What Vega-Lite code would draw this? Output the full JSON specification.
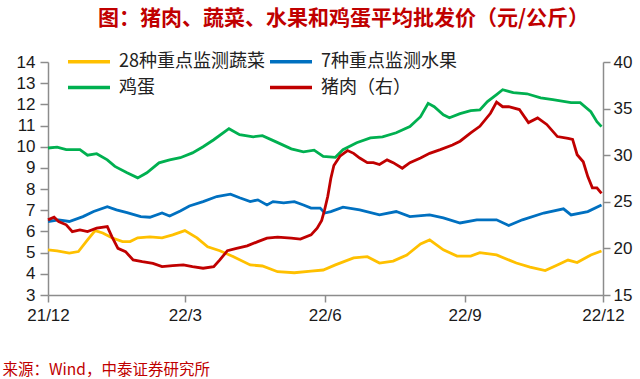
{
  "$schema": "https://vega.github.io/schema/vega-lite/v6.json",
  "autosize": {"type": "none"},
  "width": 555,
  "height": 233,
  "padding": {"left": 48, "top": 62, "right": 37, "bottom": 84},
  "background": "white",
  "title": {
    "text": "图：猪肉、蔬菜、水果和鸡蛋平均批发价（元/公斤）",
    "font": "Noto Sans CJK SC",
    "fontSize": 21,
    "fontWeight": "bold",
    "color": "#C00000",
    "anchor": "middle",
    "frame": "group",
    "dx": 18,
    "dy": 13,
    "offset": 22,
    "baseline": "middle"
  },
  "config": {
    "view": {"stroke": null},
    "axis": {
      "grid": false,
      "domainColor": "#8c8c8c",
      "domainWidth": 1.5,
      "tickColor": "#8c8c8c",
      "tickWidth": 1.5,
      "labelFont": "Liberation Sans",
      "labelFontSize": 17,
      "labelColor": "#1a1a1a"
    }
  },
  "datasets": {
    "prices": [
      {"series": "鸡蛋", "date": "2021-12-01", "value": 9.94},
      {"series": "鸡蛋", "date": "2021-12-07", "value": 9.98},
      {"series": "鸡蛋", "date": "2021-12-13", "value": 9.86},
      {"series": "鸡蛋", "date": "2021-12-22", "value": 9.86},
      {"series": "鸡蛋", "date": "2021-12-27", "value": 9.6},
      {"series": "鸡蛋", "date": "2022-01-02", "value": 9.67},
      {"series": "鸡蛋", "date": "2022-01-09", "value": 9.38},
      {"series": "鸡蛋", "date": "2022-01-14", "value": 9.07},
      {"series": "鸡蛋", "date": "2022-01-22", "value": 8.77},
      {"series": "鸡蛋", "date": "2022-01-29", "value": 8.53},
      {"series": "鸡蛋", "date": "2022-02-04", "value": 8.77},
      {"series": "鸡蛋", "date": "2022-02-12", "value": 9.24},
      {"series": "鸡蛋", "date": "2022-02-19", "value": 9.38},
      {"series": "鸡蛋", "date": "2022-02-26", "value": 9.48},
      {"series": "鸡蛋", "date": "2022-03-06", "value": 9.71},
      {"series": "鸡蛋", "date": "2022-03-13", "value": 10.0},
      {"series": "鸡蛋", "date": "2022-03-20", "value": 10.33},
      {"series": "鸡蛋", "date": "2022-03-30", "value": 10.85},
      {"series": "鸡蛋", "date": "2022-04-06", "value": 10.57},
      {"series": "鸡蛋", "date": "2022-04-15", "value": 10.47},
      {"series": "鸡蛋", "date": "2022-04-21", "value": 10.52},
      {"series": "鸡蛋", "date": "2022-04-30", "value": 10.23},
      {"series": "鸡蛋", "date": "2022-05-10", "value": 9.9},
      {"series": "鸡蛋", "date": "2022-05-18", "value": 9.76},
      {"series": "鸡蛋", "date": "2022-05-25", "value": 9.84},
      {"series": "鸡蛋", "date": "2022-05-31", "value": 9.54},
      {"series": "鸡蛋", "date": "2022-06-08", "value": 9.5},
      {"series": "鸡蛋", "date": "2022-06-13", "value": 9.86},
      {"series": "鸡蛋", "date": "2022-06-22", "value": 10.19},
      {"series": "鸡蛋", "date": "2022-07-01", "value": 10.42},
      {"series": "鸡蛋", "date": "2022-07-09", "value": 10.47},
      {"series": "鸡蛋", "date": "2022-07-18", "value": 10.66},
      {"series": "鸡蛋", "date": "2022-07-27", "value": 10.95},
      {"series": "鸡蛋", "date": "2022-08-03", "value": 11.42},
      {"series": "鸡蛋", "date": "2022-08-08", "value": 12.05},
      {"series": "鸡蛋", "date": "2022-08-12", "value": 11.89},
      {"series": "鸡蛋", "date": "2022-08-18", "value": 11.51},
      {"series": "鸡蛋", "date": "2022-08-22", "value": 11.37},
      {"series": "鸡蛋", "date": "2022-08-29", "value": 11.56},
      {"series": "鸡蛋", "date": "2022-09-05", "value": 11.7},
      {"series": "鸡蛋", "date": "2022-09-11", "value": 11.74},
      {"series": "鸡蛋", "date": "2022-09-16", "value": 12.13},
      {"series": "鸡蛋", "date": "2022-09-22", "value": 12.46},
      {"series": "鸡蛋", "date": "2022-09-26", "value": 12.69},
      {"series": "鸡蛋", "date": "2022-10-03", "value": 12.55},
      {"series": "鸡蛋", "date": "2022-10-12", "value": 12.5},
      {"series": "鸡蛋", "date": "2022-10-21", "value": 12.31},
      {"series": "鸡蛋", "date": "2022-10-29", "value": 12.22},
      {"series": "鸡蛋", "date": "2022-11-10", "value": 12.08},
      {"series": "鸡蛋", "date": "2022-11-16", "value": 12.08},
      {"series": "鸡蛋", "date": "2022-11-23", "value": 11.65},
      {"series": "鸡蛋", "date": "2022-11-27", "value": 11.18},
      {"series": "鸡蛋", "date": "2022-11-30", "value": 10.95},

      {"series": "7种重点监测水果", "date": "2021-12-01", "value": 6.47},
      {"series": "7种重点监测水果", "date": "2021-12-08", "value": 6.55},
      {"series": "7种重点监测水果", "date": "2021-12-15", "value": 6.47},
      {"series": "7种重点监测水果", "date": "2021-12-24", "value": 6.7},
      {"series": "7种重点监测水果", "date": "2021-12-31", "value": 6.94},
      {"series": "7种重点监测水果", "date": "2022-01-09", "value": 7.17},
      {"series": "7种重点监测水果", "date": "2022-01-15", "value": 7.02},
      {"series": "7种重点监测水果", "date": "2022-01-22", "value": 6.89},
      {"series": "7种重点监测水果", "date": "2022-01-31", "value": 6.7},
      {"series": "7种重点监测水果", "date": "2022-02-06", "value": 6.67},
      {"series": "7种重点监测水果", "date": "2022-02-14", "value": 6.87},
      {"series": "7种重点监测水果", "date": "2022-02-19", "value": 6.73},
      {"series": "7种重点监测水果", "date": "2022-02-26", "value": 6.97},
      {"series": "7种重点监测水果", "date": "2022-03-04", "value": 7.2},
      {"series": "7种重点监测水果", "date": "2022-03-13", "value": 7.41},
      {"series": "7种重点监测水果", "date": "2022-03-22", "value": 7.65},
      {"series": "7种重点监测水果", "date": "2022-03-31", "value": 7.76},
      {"series": "7种重点监测水果", "date": "2022-04-06", "value": 7.59},
      {"series": "7种重点监测水果", "date": "2022-04-13", "value": 7.41},
      {"series": "7种重点监测水果", "date": "2022-04-18", "value": 7.49},
      {"series": "7种重点监测水果", "date": "2022-04-24", "value": 7.25},
      {"series": "7种重点监测水果", "date": "2022-04-28", "value": 7.41},
      {"series": "7种重点监测水果", "date": "2022-05-05", "value": 7.35},
      {"series": "7种重点监测水果", "date": "2022-05-12", "value": 7.41},
      {"series": "7种重点监测水果", "date": "2022-05-18", "value": 7.25},
      {"series": "7种重点监测水果", "date": "2022-05-23", "value": 7.1},
      {"series": "7种重点监测水果", "date": "2022-05-29", "value": 7.1},
      {"series": "7种重点监测水果", "date": "2022-06-01", "value": 6.87},
      {"series": "7种重点监测水果", "date": "2022-06-05", "value": 6.94},
      {"series": "7种重点监测水果", "date": "2022-06-13", "value": 7.15},
      {"series": "7种重点监测水果", "date": "2022-06-24", "value": 7.02},
      {"series": "7种重点监测水果", "date": "2022-07-07", "value": 6.78},
      {"series": "7种重点监测水果", "date": "2022-07-18", "value": 6.94},
      {"series": "7种重点监测水果", "date": "2022-07-27", "value": 6.7},
      {"series": "7种重点监测水果", "date": "2022-08-09", "value": 6.78},
      {"series": "7种重点监测水果", "date": "2022-08-18", "value": 6.64},
      {"series": "7种重点监测水果", "date": "2022-08-29", "value": 6.4},
      {"series": "7种重点监测水果", "date": "2022-09-09", "value": 6.55},
      {"series": "7种重点监测水果", "date": "2022-09-22", "value": 6.55},
      {"series": "7种重点监测水果", "date": "2022-09-30", "value": 6.28},
      {"series": "7种重点监测水果", "date": "2022-10-09", "value": 6.55},
      {"series": "7种重点监测水果", "date": "2022-10-23", "value": 6.87},
      {"series": "7种重点监测水果", "date": "2022-11-05", "value": 7.07},
      {"series": "7种重点监测水果", "date": "2022-11-10", "value": 6.78},
      {"series": "7种重点监测水果", "date": "2022-11-21", "value": 6.94},
      {"series": "7种重点监测水果", "date": "2022-11-30", "value": 7.25},

      {"series": "28种重点监测蔬菜", "date": "2021-12-01", "value": 5.13},
      {"series": "28种重点监测蔬菜", "date": "2021-12-07", "value": 5.08},
      {"series": "28种重点监测蔬菜", "date": "2021-12-15", "value": 4.98},
      {"series": "28种重点监测蔬菜", "date": "2021-12-21", "value": 5.05},
      {"series": "28种重点监测蔬菜", "date": "2021-12-27", "value": 5.6},
      {"series": "28种重点监测蔬菜", "date": "2022-01-01", "value": 6.04},
      {"series": "28种重点监测蔬菜", "date": "2022-01-06", "value": 5.93},
      {"series": "28种重点监测蔬菜", "date": "2022-01-12", "value": 5.7},
      {"series": "28种重点监测蔬菜", "date": "2022-01-19", "value": 5.52},
      {"series": "28种重点监测蔬菜", "date": "2022-01-24", "value": 5.52},
      {"series": "28种重点监测蔬菜", "date": "2022-01-29", "value": 5.7},
      {"series": "28种重点监测蔬菜", "date": "2022-02-06", "value": 5.74},
      {"series": "28种重点监测蔬菜", "date": "2022-02-14", "value": 5.7},
      {"series": "28种重点监测蔬菜", "date": "2022-02-21", "value": 5.84},
      {"series": "28种重点监测蔬菜", "date": "2022-03-01", "value": 6.04},
      {"series": "28种重点监测蔬菜", "date": "2022-03-09", "value": 5.7},
      {"series": "28种重点监测蔬菜", "date": "2022-03-16", "value": 5.28},
      {"series": "28种重点监测蔬菜", "date": "2022-03-24", "value": 5.09},
      {"series": "28种重点监测蔬菜", "date": "2022-04-02", "value": 4.81},
      {"series": "28种重点监测蔬菜", "date": "2022-04-13", "value": 4.42},
      {"series": "28种重点监测蔬菜", "date": "2022-04-21", "value": 4.37},
      {"series": "28种重点监测蔬菜", "date": "2022-05-01", "value": 4.1},
      {"series": "28种重点监测蔬菜", "date": "2022-05-12", "value": 4.05},
      {"series": "28种重点监测蔬菜", "date": "2022-05-23", "value": 4.13},
      {"series": "28种重点监测蔬菜", "date": "2022-05-31", "value": 4.18},
      {"series": "28种重点监测蔬菜", "date": "2022-06-08", "value": 4.42},
      {"series": "28种重点监测蔬菜", "date": "2022-06-20", "value": 4.75},
      {"series": "28种重点监测蔬菜", "date": "2022-06-29", "value": 4.81},
      {"series": "28种重点监测蔬菜", "date": "2022-07-07", "value": 4.51},
      {"series": "28种重点监测蔬菜", "date": "2022-07-16", "value": 4.6},
      {"series": "28种重点监测蔬菜", "date": "2022-07-25", "value": 4.89},
      {"series": "28种重点监测蔬菜", "date": "2022-08-03", "value": 5.41},
      {"series": "28种重点监测蔬菜", "date": "2022-08-09", "value": 5.6},
      {"series": "28种重点监测蔬菜", "date": "2022-08-18", "value": 5.13},
      {"series": "28种重点监测蔬菜", "date": "2022-08-27", "value": 4.84},
      {"series": "28种重点监测蔬菜", "date": "2022-09-05", "value": 4.84},
      {"series": "28种重点监测蔬菜", "date": "2022-09-11", "value": 5.0},
      {"series": "28种重点监测蔬菜", "date": "2022-09-22", "value": 4.89},
      {"series": "28种重点监测蔬菜", "date": "2022-10-05", "value": 4.51},
      {"series": "28种重点监测蔬菜", "date": "2022-10-14", "value": 4.32},
      {"series": "28种重点监测蔬菜", "date": "2022-10-24", "value": 4.15},
      {"series": "28种重点监测蔬菜", "date": "2022-11-01", "value": 4.42},
      {"series": "28种重点监测蔬菜", "date": "2022-11-08", "value": 4.65},
      {"series": "28种重点监测蔬菜", "date": "2022-11-14", "value": 4.53},
      {"series": "28种重点监测蔬菜", "date": "2022-11-23", "value": 4.89},
      {"series": "28种重点监测蔬菜", "date": "2022-11-30", "value": 5.08},

      {"series": "猪肉（右）", "date": "2021-12-01", "value": 23.06},
      {"series": "猪肉（右）", "date": "2021-12-05", "value": 23.35},
      {"series": "猪肉（右）", "date": "2021-12-08", "value": 22.88},
      {"series": "猪肉（右）", "date": "2021-12-13", "value": 22.53},
      {"series": "猪肉（右）", "date": "2021-12-17", "value": 21.8},
      {"series": "猪肉（右）", "date": "2021-12-22", "value": 21.99},
      {"series": "猪肉（右）", "date": "2021-12-27", "value": 21.8},
      {"series": "猪肉（右）", "date": "2022-01-02", "value": 22.17},
      {"series": "猪肉（右）", "date": "2022-01-09", "value": 22.34},
      {"series": "猪肉（右）", "date": "2022-01-12", "value": 21.27},
      {"series": "猪肉（右）", "date": "2022-01-16", "value": 20.0},
      {"series": "猪肉（右）", "date": "2022-01-21", "value": 19.65},
      {"series": "猪肉（右）", "date": "2022-01-26", "value": 18.76},
      {"series": "猪肉（右）", "date": "2022-02-01", "value": 18.58},
      {"series": "猪肉（右）", "date": "2022-02-08", "value": 18.4},
      {"series": "猪肉（右）", "date": "2022-02-14", "value": 18.04},
      {"series": "猪肉（右）", "date": "2022-02-21", "value": 18.15},
      {"series": "猪肉（右）", "date": "2022-02-28", "value": 18.23},
      {"series": "猪肉（右）", "date": "2022-03-06", "value": 18.04},
      {"series": "猪肉（右）", "date": "2022-03-13", "value": 17.87},
      {"series": "猪肉（右）", "date": "2022-03-20", "value": 18.04},
      {"series": "猪肉（右）", "date": "2022-03-24", "value": 18.76},
      {"series": "猪肉（右）", "date": "2022-03-29", "value": 19.76},
      {"series": "猪肉（右）", "date": "2022-04-04", "value": 20.0},
      {"series": "猪肉（右）", "date": "2022-04-11", "value": 20.27},
      {"series": "猪肉（右）", "date": "2022-04-18", "value": 20.73},
      {"series": "猪肉（右）", "date": "2022-04-24", "value": 21.1},
      {"series": "猪肉（右）", "date": "2022-05-01", "value": 21.2},
      {"series": "猪肉（右）", "date": "2022-05-10", "value": 21.1},
      {"series": "猪肉（右）", "date": "2022-05-16", "value": 20.99},
      {"series": "猪肉（右）", "date": "2022-05-23", "value": 21.45},
      {"series": "猪肉（右）", "date": "2022-05-27", "value": 22.17},
      {"series": "猪肉（右）", "date": "2022-05-30", "value": 23.0},
      {"series": "猪肉（右）", "date": "2022-06-01", "value": 24.2},
      {"series": "猪肉（右）", "date": "2022-06-03", "value": 25.6},
      {"series": "猪肉（右）", "date": "2022-06-05", "value": 27.5},
      {"series": "猪肉（右）", "date": "2022-06-07", "value": 28.9},
      {"series": "猪肉（右）", "date": "2022-06-11", "value": 29.9},
      {"series": "猪肉（右）", "date": "2022-06-16", "value": 30.5},
      {"series": "猪肉（右）", "date": "2022-06-20", "value": 30.2},
      {"series": "猪肉（右）", "date": "2022-06-24", "value": 29.7},
      {"series": "猪肉（右）", "date": "2022-06-29", "value": 29.2},
      {"series": "猪肉（右）", "date": "2022-07-03", "value": 29.2},
      {"series": "猪肉（右）", "date": "2022-07-07", "value": 29.0},
      {"series": "猪肉（右）", "date": "2022-07-12", "value": 29.5},
      {"series": "猪肉（右）", "date": "2022-07-16", "value": 29.2},
      {"series": "猪肉（右）", "date": "2022-07-22", "value": 28.6},
      {"series": "猪肉（右）", "date": "2022-07-27", "value": 29.2},
      {"series": "猪肉（右）", "date": "2022-08-03", "value": 29.7},
      {"series": "猪肉（右）", "date": "2022-08-09", "value": 30.2},
      {"series": "猪肉（右）", "date": "2022-08-16", "value": 30.6},
      {"series": "猪肉（右）", "date": "2022-08-24", "value": 31.1},
      {"series": "猪肉（右）", "date": "2022-08-29", "value": 31.5},
      {"series": "猪肉（右）", "date": "2022-09-05", "value": 32.4},
      {"series": "猪肉（右）", "date": "2022-09-11", "value": 33.1},
      {"series": "猪肉（右）", "date": "2022-09-18", "value": 34.5},
      {"series": "猪肉（右）", "date": "2022-09-22", "value": 35.7},
      {"series": "猪肉（右）", "date": "2022-09-26", "value": 35.2},
      {"series": "猪肉（右）", "date": "2022-09-30", "value": 35.2},
      {"series": "猪肉（右）", "date": "2022-10-07", "value": 34.9},
      {"series": "猪肉（右）", "date": "2022-10-13", "value": 33.5},
      {"series": "猪肉（右）", "date": "2022-10-19", "value": 34.0},
      {"series": "猪肉（右）", "date": "2022-10-25", "value": 33.3},
      {"series": "猪肉（右）", "date": "2022-11-01", "value": 32.0},
      {"series": "猪肉（右）", "date": "2022-11-08", "value": 31.8},
      {"series": "猪肉（右）", "date": "2022-11-11", "value": 31.7},
      {"series": "猪肉（右）", "date": "2022-11-14", "value": 30.05},
      {"series": "猪肉（右）", "date": "2022-11-18", "value": 29.3},
      {"series": "猪肉（右）", "date": "2022-11-21", "value": 27.7},
      {"series": "猪肉（右）", "date": "2022-11-24", "value": 26.5},
      {"series": "猪肉（右）", "date": "2022-11-27", "value": 26.5},
      {"series": "猪肉（右）", "date": "2022-11-30", "value": 25.9}
    ]
  },
  "data": {"name": "prices"},
  "encoding": {
    "x": {
      "field": "date",
      "type": "temporal",
      "scale": {
        "type": "utc",
        "domain": [
          {"year": 2021, "month": 12, "date": 1, "utc": true},
          {"year": 2022, "month": 12, "date": 1, "utc": true}
        ]
      },
      "axis": {
        "values": [
          {"year": 2021, "month": 12, "date": 1, "utc": true},
          {"year": 2022, "month": 3, "date": 1, "utc": true},
          {"year": 2022, "month": 6, "date": 1, "utc": true},
          {"year": 2022, "month": 9, "date": 1, "utc": true},
          {"year": 2022, "month": 12, "date": 1, "utc": true}
        ],
        "format": "%y/%-m",
        "labelFlush": false,
        "labelOverlap": false,
        "tickSize": 7,
        "labelPadding": 5,
        "title": "来源：Wind，中泰证券研究所",
        "titleFont": "Noto Sans CJK SC",
        "titleFontSize": 15.5,
        "titleFontWeight": "normal",
        "titleColor": "#C00000",
        "titleAlign": "left",
        "titleBaseline": "middle",
        "titleAnchor": "start",
        "titleX": -46,
        "titleY": 74
      }
    },
    "color": {
      "field": "series",
      "type": "nominal",
      "scale": {
        "domain": ["28种重点监测蔬菜", "7种重点监测水果", "鸡蛋", "猪肉（右）"],
        "range": ["#FFC000", "#0070C0", "#00B050", "#C00000"]
      },
      "legend": {
        "orient": "none",
        "direction": "horizontal",
        "legendX": 28.5,
        "legendY": -13,
        "columns": 2,
        "title": null,
        "symbolType": "M-2,0H2",
        "symbolSize": 441,
        "symbolStrokeWidth": 3.5,
        "labelFont": "Noto Sans CJK SC",
        "labelFontSize": 18,
        "labelColor": "#222222",
        "labelOffset": 17.5,
        "columnPadding": -3,
        "rowPadding": 4
      }
    }
  },
  "layer": [
    {
      "transform": [{"filter": "datum.series !== '猪肉（右）'"}],
      "mark": {"type": "line", "strokeWidth": 2.8},
      "encoding": {
        "y": {
          "field": "value",
          "type": "quantitative",
          "scale": {"domain": [3, 14], "nice": false, "zero": false},
          "axis": {
            "orient": "left",
            "values": [3, 4, 5, 6, 7, 8, 9, 10, 11, 12, 13, 14],
            "title": null,
            "tickSize": 8,
            "labelPadding": 5
          }
        }
      }
    },
    {
      "transform": [{"filter": "datum.series === '猪肉（右）'"}],
      "mark": {"type": "line", "strokeWidth": 2.8},
      "encoding": {
        "y": {
          "field": "value",
          "type": "quantitative",
          "scale": {"domain": [15, 40], "nice": false, "zero": false},
          "axis": {
            "orient": "right",
            "values": [15, 20, 25, 30, 35, 40],
            "title": null,
            "tickSize": 7,
            "labelPadding": 3
          }
        }
      }
    }
  ],
  "resolve": {"scale": {"y": "independent"}}
}
